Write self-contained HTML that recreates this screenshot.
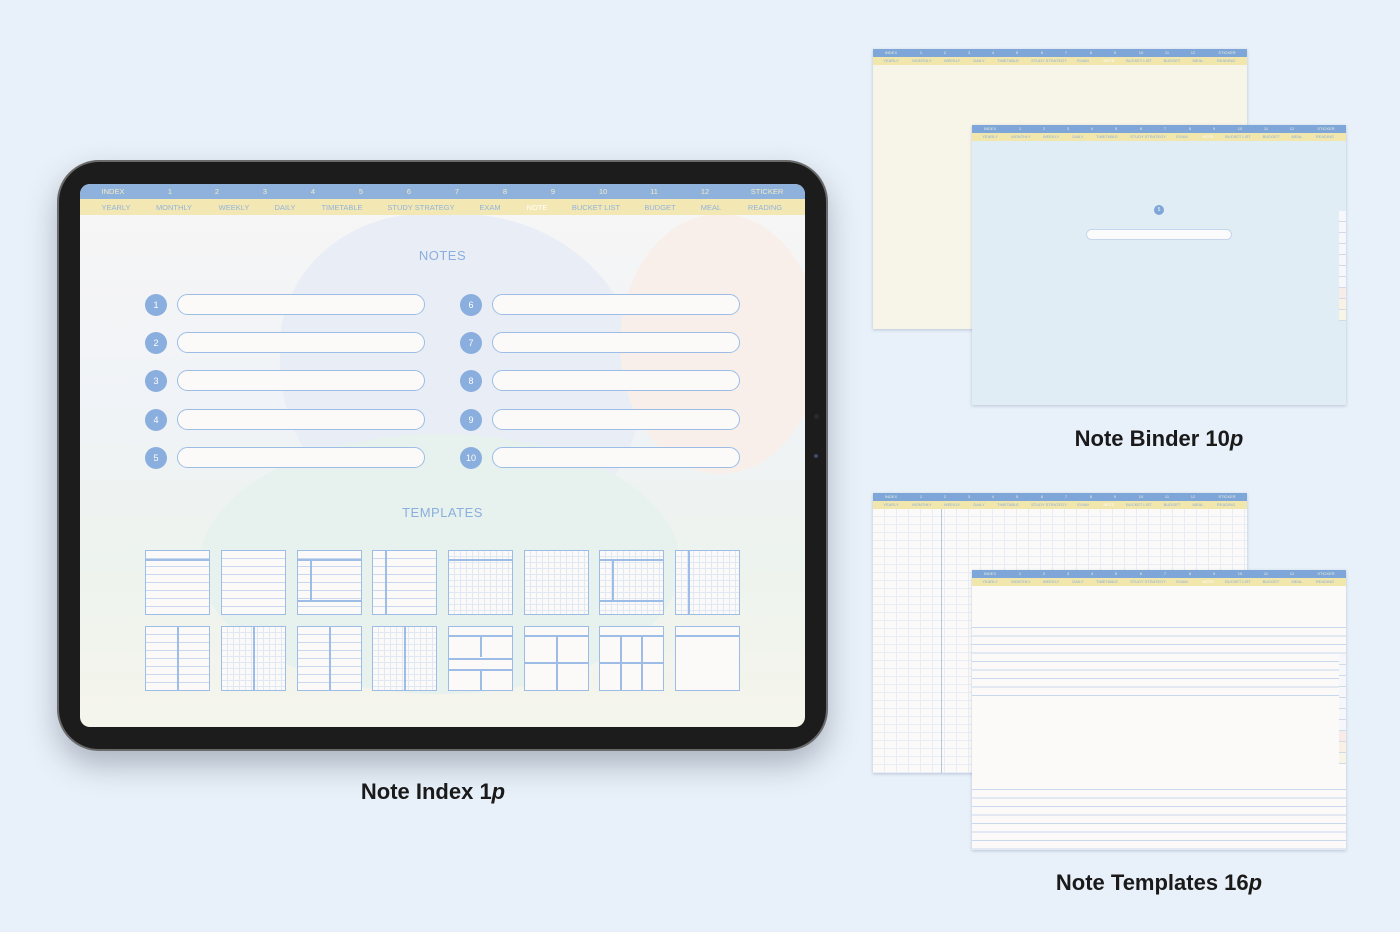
<!DOCTYPE html>
<html><head><meta charset="utf-8"><style>
*{margin:0;padding:0;box-sizing:border-box}
body{width:1400px;height:932px;background:#e8f0f9;position:relative;overflow:hidden;font-family:"Liberation Sans",sans-serif}
.abs{position:absolute}
.tab{left:57px;top:160px;width:771px;height:591px;border-radius:42px;background:#1c1c1c;box-shadow:0 14px 30px rgba(60,70,90,.35);border:2px solid #6a6a6a}
.scr{left:80px;top:184px;width:725px;height:543px;border-radius:10px;overflow:hidden;background:linear-gradient(180deg,#f7f6f6 0%,#f0f3f7 40%,#edf3ee 70%,#f5f5ec 100%)}
.blob1{left:200px;top:30px;width:360px;height:330px;background:#e9eef6;border-radius:40% 50% 45% 55%}
.blob2{left:540px;top:30px;width:200px;height:260px;background:#f8efea;border-radius:50%}
.blob3{left:120px;top:250px;width:480px;height:260px;background:#e7f1ee;border-radius:50%}
.hb{position:absolute;left:0;width:100%;display:flex;align-items:center}
.hb span{position:absolute;transform:translateX(-50%);white-space:nowrap}
.c{left:0;width:22px;height:22px;border-radius:50%;background:#8aaedd;color:#fff;font-size:9px;display:flex;align-items:center;justify-content:center;position:absolute}
.bar{position:absolute;height:21px;width:248px;border:1.5px solid #9dbde6;border-radius:11px;background:#fbfaf9}
.t{position:absolute;width:65px;height:65px;border:1.5px solid #9dbde6;background:#fbfaf8}
.ln{background:repeating-linear-gradient(180deg,#fbfaf8 0 7px,#c9d8ee 7px 8px)}
.gr{background:repeating-linear-gradient(90deg,transparent 0 5px,#e0e8f4 5px 6px),repeating-linear-gradient(180deg,#fbfaf8 0 5px,#e0e8f4 5px 6px)}
.v{position:absolute;top:0;bottom:0;width:1.5px;background:#9dbde6}
.h{position:absolute;left:0;right:0;height:1.5px;background:#9dbde6}
.pg{position:absolute;width:374px;height:280px;box-shadow:0 1px 3px rgba(80,100,140,.3);overflow:hidden}
.ph1{position:absolute;left:0;top:0;width:100%;height:8px;background:#7fa6d8}
.ph2{position:absolute;left:0;top:8px;width:100%;height:8px;background:#f1e6ac}
.ph1 span,.ph2 span{position:absolute;top:1px;font-size:4px;transform:translateX(-50%);white-space:nowrap}
.ph1 span{color:#e8efd8}.ph2 span{color:#8aaedd}
.side{position:absolute;right:0;width:7px;height:11px;background:#f5f7fb;border-bottom:1px solid #d0dbe9;font-size:3px;color:#9ab;text-align:center}
.cap{position:absolute;font-weight:bold;font-size:22px;color:#1a1a1a;transform:translateX(-50%);white-space:nowrap}
</style></head><body>

<div class="abs tab"></div>
<div class="abs" style="left:812px;top:410px;width:8px;height:90px">
<div style="position:absolute;left:2px;top:4px;width:5px;height:5px;border-radius:50%;background:#2a2a2a"></div>
<div style="position:absolute;left:2px;top:44px;width:4px;height:4px;border-radius:50%;background:#3a4a6a"></div>
</div>
<div class="abs scr">
 <div class="abs blob1"></div><div class="abs blob2"></div><div class="abs blob3"></div>
 <div class="hb" style="top:0;height:15px;background:#8fb2dd;font-size:7.5px;color:#f3ecc4">
  <span style="left:33px">INDEX</span><span style="left:90px">1</span><span style="left:137px">2</span><span style="left:185px">3</span><span style="left:233px">4</span><span style="left:281px">5</span><span style="left:329px">6</span><span style="left:377px">7</span><span style="left:425px">8</span><span style="left:473px">9</span><span style="left:523px">10</span><span style="left:574px">11</span><span style="left:625px">12</span><span style="left:687px">STICKER</span>
 </div>
 <div class="hb" style="top:15px;height:16px;background:#f3e8b3;font-size:7.5px;color:#93b3dc">
  <span style="left:36px">YEARLY</span><span style="left:94px">MONTHLY</span><span style="left:154px">WEEKLY</span><span style="left:205px">DAILY</span><span style="left:262px">TIMETABLE</span><span style="left:341px">STUDY STRATEGY</span><span style="left:410px">EXAM</span><span style="left:457px;color:#fff">NOTE</span><span style="left:516px">BUCKET LIST</span><span style="left:580px">BUDGET</span><span style="left:631px">MEAL</span><span style="left:685px">READING</span>
 </div>
 <div class="abs" style="left:0;width:725px;top:64px;text-align:center;font-size:13px;color:#8aaedd;letter-spacing:.5px">NOTES</div>
 <div class="abs" style="left:0;width:725px;top:321px;text-align:center;font-size:13px;color:#8aaedd;letter-spacing:.5px">TEMPLATES</div>
</div>

<div class="abs" style="left:0;top:0">
 <div class="c" style="left:145px;top:294px">1</div><div class="bar" style="left:177px;top:294px"></div>
 <div class="c" style="left:145px;top:332px">2</div><div class="bar" style="left:177px;top:332px"></div>
 <div class="c" style="left:145px;top:370px">3</div><div class="bar" style="left:177px;top:370px"></div>
 <div class="c" style="left:145px;top:409px">4</div><div class="bar" style="left:177px;top:409px"></div>
 <div class="c" style="left:145px;top:447px">5</div><div class="bar" style="left:177px;top:447px"></div>
 <div class="c" style="left:460px;top:294px">6</div><div class="bar" style="left:492px;top:294px"></div>
 <div class="c" style="left:460px;top:332px">7</div><div class="bar" style="left:492px;top:332px"></div>
 <div class="c" style="left:460px;top:370px">8</div><div class="bar" style="left:492px;top:370px"></div>
 <div class="c" style="left:460px;top:409px">9</div><div class="bar" style="left:492px;top:409px"></div>
 <div class="c" style="left:460px;top:447px">10</div><div class="bar" style="left:492px;top:447px"></div>
</div>

<div class="t ln" style="left:145px;top:550px"><div class="h" style="top:8px"></div></div>
<div class="t ln" style="left:221px;top:550px"></div>
<div class="t ln" style="left:297px;top:550px"><div class="h" style="top:8px"></div><div class="v" style="left:12px;top:8px;bottom:12px"></div><div class="h" style="top:49px"></div></div>
<div class="t ln" style="left:372px;top:550px"><div class="v" style="left:12px"></div></div>
<div class="t gr" style="left:448px;top:550px"><div class="h" style="top:8px"></div></div>
<div class="t gr" style="left:524px;top:550px"></div>
<div class="t gr" style="left:599px;top:550px"><div class="h" style="top:8px"></div><div class="v" style="left:12px;top:8px;bottom:12px"></div><div class="h" style="top:49px"></div></div>
<div class="t gr" style="left:675px;top:550px"><div class="v" style="left:12px"></div></div>
<div class="t ln" style="left:145px;top:626px"><div class="v" style="left:31px"></div></div>
<div class="t gr" style="left:221px;top:626px"><div class="v" style="left:31px"></div></div>
<div class="t ln" style="left:297px;top:626px"><div class="v" style="left:31px"></div></div>
<div class="t gr" style="left:372px;top:626px"><div class="v" style="left:31px"></div></div>
<div class="t" style="left:448px;top:626px"><div class="h" style="top:8px"></div><div class="h" style="top:31px"></div><div class="h" style="top:42px"></div><div class="v" style="left:31px;top:8px;bottom:33px"></div><div class="v" style="left:31px;top:42px"></div></div>
<div class="t" style="left:524px;top:626px"><div class="h" style="top:8px"></div><div class="h" style="top:35px"></div><div class="v" style="left:31px;top:8px"></div></div>
<div class="t" style="left:599px;top:626px"><div class="h" style="top:8px"></div><div class="h" style="top:35px"></div><div class="v" style="left:20px;top:8px"></div><div class="v" style="left:41px;top:8px"></div></div>
<div class="t" style="left:675px;top:626px"><div class="h" style="top:8px"></div></div>

<div class="cap" style="left:433px;top:779px">Note Index 1<i>p</i></div>

<div class="pg" style="left:873px;top:49px;background:#f7f5e8">
 <div class="ph1"><span style="left:18px">INDEX</span><span style="left:48px">1</span><span style="left:72px">2</span><span style="left:96px">3</span><span style="left:120px">4</span><span style="left:144px">5</span><span style="left:169px">6</span><span style="left:193px">7</span><span style="left:218px">8</span><span style="left:242px">9</span><span style="left:268px">10</span><span style="left:294px">11</span><span style="left:320px">12</span><span style="left:354px">STICKER</span></div>
 <div class="ph2"><span style="left:18px">YEARLY</span><span style="left:49px">MONTHLY</span><span style="left:79px">WEEKLY</span><span style="left:106px">DAILY</span><span style="left:135px">TIMETABLE</span><span style="left:176px">STUDY STRATEGY</span><span style="left:210px">EXAM</span><span style="left:236px;color:#fff">NOTE</span><span style="left:266px">BUCKET LIST</span><span style="left:299px">BUDGET</span><span style="left:325px">MEAL</span><span style="left:353px">READING</span></div>
</div>
<div class="pg" style="left:972px;top:125px;background:#e1edf5">
 <div class="ph1"><span style="left:18px">INDEX</span><span style="left:48px">1</span><span style="left:72px">2</span><span style="left:96px">3</span><span style="left:120px">4</span><span style="left:144px">5</span><span style="left:169px">6</span><span style="left:193px">7</span><span style="left:218px">8</span><span style="left:242px">9</span><span style="left:268px">10</span><span style="left:294px">11</span><span style="left:320px">12</span><span style="left:354px">STICKER</span></div>
 <div class="ph2"><span style="left:18px">YEARLY</span><span style="left:49px">MONTHLY</span><span style="left:79px">WEEKLY</span><span style="left:106px">DAILY</span><span style="left:135px">TIMETABLE</span><span style="left:176px">STUDY STRATEGY</span><span style="left:210px">EXAM</span><span style="left:236px;color:#fff">NOTE</span><span style="left:266px">BUCKET LIST</span><span style="left:299px">BUDGET</span><span style="left:325px">MEAL</span><span style="left:353px">READING</span></div>
 <div style="position:absolute;left:182px;top:80px;width:10px;height:10px;border-radius:50%;background:#7fa6d8;color:#fff;font-size:5px;text-align:center;line-height:10px">5</div>
 <div style="position:absolute;left:114px;top:104px;width:146px;height:11px;border:1px solid #c6d6ee;border-radius:6px;background:#fbfbfb"></div>
 <div class="side" style="top:86px"></div><div class="side" style="top:97px"></div><div class="side" style="top:108px"></div><div class="side" style="top:119px"></div><div class="side" style="top:130px"></div><div class="side" style="top:141px"></div><div class="side" style="top:152px"></div><div class="side" style="top:163px;background:#f8ece8"></div><div class="side" style="top:174px;background:#f8f1e4"></div><div class="side" style="top:185px;background:#f7f5e6"></div>
</div>
<div class="cap" style="left:1159px;top:426px">Note Binder 10<i>p</i></div>

<div class="pg" style="left:873px;top:493px;background:repeating-linear-gradient(90deg,transparent 0 11px,#e7ecf5 11px 12px),repeating-linear-gradient(180deg,#fbfaf8 0 7px,#e9edf5 7px 8px)">
 <div class="ph1"><span style="left:18px">INDEX</span><span style="left:48px">1</span><span style="left:72px">2</span><span style="left:96px">3</span><span style="left:120px">4</span><span style="left:144px">5</span><span style="left:169px">6</span><span style="left:193px">7</span><span style="left:218px">8</span><span style="left:242px">9</span><span style="left:268px">10</span><span style="left:294px">11</span><span style="left:320px">12</span><span style="left:354px">STICKER</span></div>
 <div class="ph2"><span style="left:18px">YEARLY</span><span style="left:49px">MONTHLY</span><span style="left:79px">WEEKLY</span><span style="left:106px">DAILY</span><span style="left:135px">TIMETABLE</span><span style="left:176px">STUDY STRATEGY</span><span style="left:210px">EXAM</span><span style="left:236px;color:#fff">NOTE</span><span style="left:266px">BUCKET LIST</span><span style="left:299px">BUDGET</span><span style="left:325px">MEAL</span><span style="left:353px">READING</span></div>
 <div style="position:absolute;left:68px;top:16px;bottom:0;width:1px;background:#b7c6df"></div>
</div>
<div class="pg" style="left:972px;top:570px;background:#fbfaf8">
 <div class="ph1"><span style="left:18px">INDEX</span><span style="left:48px">1</span><span style="left:72px">2</span><span style="left:96px">3</span><span style="left:120px">4</span><span style="left:144px">5</span><span style="left:169px">6</span><span style="left:193px">7</span><span style="left:218px">8</span><span style="left:242px">9</span><span style="left:268px">10</span><span style="left:294px">11</span><span style="left:320px">12</span><span style="left:354px">STICKER</span></div>
 <div class="ph2"><span style="left:18px">YEARLY</span><span style="left:49px">MONTHLY</span><span style="left:79px">WEEKLY</span><span style="left:106px">DAILY</span><span style="left:135px">TIMETABLE</span><span style="left:176px">STUDY STRATEGY</span><span style="left:210px">EXAM</span><span style="left:236px;color:#fff">NOTE</span><span style="left:266px">BUCKET LIST</span><span style="left:299px">BUDGET</span><span style="left:325px">MEAL</span><span style="left:353px">READING</span></div>
 <div style="position:absolute;left:0;right:0;top:57px;height:71px;background:repeating-linear-gradient(180deg,#c9d8ee 0 1px,transparent 1px 8.5px)"></div>
 <div style="position:absolute;left:0;right:0;top:219px;height:62px;background:repeating-linear-gradient(180deg,#c9d8ee 0 1px,transparent 1px 8.5px)"></div>
 <div class="side" style="top:84px"></div><div class="side" style="top:95px"></div><div class="side" style="top:106px"></div><div class="side" style="top:117px"></div><div class="side" style="top:128px"></div><div class="side" style="top:139px"></div><div class="side" style="top:150px"></div><div class="side" style="top:161px;background:#f8ece8"></div><div class="side" style="top:172px;background:#f8f1e4"></div><div class="side" style="top:183px;background:#f7f5e6"></div>
</div>
<div class="cap" style="left:1159px;top:870px">Note Templates 16<i>p</i></div>

</body></html>
